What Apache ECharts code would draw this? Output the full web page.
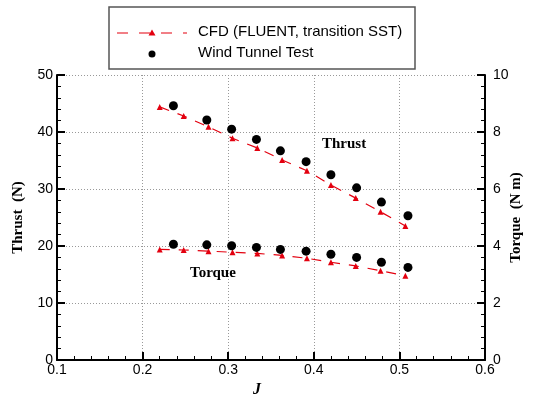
<!DOCTYPE html>
<html>
<head>
<meta charset="utf-8">
<script src="https://cdn.jsdelivr.net/npm/echarts@6/dist/echarts.min.js"></script>
<style>
html,body{margin:0;padding:0;background:#fff;}
#c{width:533px;height:394px;}
</style>
</head>
<body>
<div id="c"></div>
<script>
// ---- data ----
var cfdJ = [0.220, 0.248, 0.277, 0.305, 0.334, 0.363, 0.392, 0.420, 0.449, 0.478, 0.507];
var cfdThrust = [44.4, 42.8, 40.9, 38.9, 37.2, 35.1, 33.2, 30.7, 28.4, 26.0, 23.5];
var cfdTorque = [3.88, 3.86, 3.82, 3.78, 3.74, 3.67, 3.57, 3.43, 3.30, 3.13, 2.96];

var wtJ = [0.236, 0.275, 0.304, 0.333, 0.361, 0.391, 0.420, 0.450, 0.479, 0.510];
var wtThrust = [44.6, 42.1, 40.5, 38.7, 36.7, 34.8, 32.5, 30.2, 27.7, 25.3];
var wtTorque = [4.06, 4.04, 4.01, 3.95, 3.88, 3.82, 3.71, 3.60, 3.43, 3.25];

var legendNames = ['CFD (FLUENT, transition SST)', 'Wind Tunnel Test'];

function pairs(xs, ys){ return xs.map(function(x,i){ return [x, ys[i]]; }); }

var RED = '#e3000f';
var labelFont = {color:'#000', fontSize:14, fontFamily:'Arial, "Liberation Sans", sans-serif'};
var serifBold = '"Times New Roman", "Liberation Serif", serif';

var chart = echarts.init(document.getElementById('c'), null, {renderer:'canvas'});
chart.setOption({
  animation:false,
  backgroundColor:'#fff',
  grid:{left:57, right:48, top:75, bottom:34, containLabel:false, outerBoundsMode:'none'},
  xAxis:{
    type:'value', min:0.1, max:0.6, interval:0.1,
    name:'J', nameLocation:'middle', nameGap:18,
    nameTextStyle:{fontFamily:serifBold, fontWeight:'bold', fontStyle:'italic', fontSize:16, color:'#000', padding:[0,28,0,0]},
    axisLine:{show:true, onZero:false, lineStyle:{color:'#000', width:2}},
    axisTick:{show:true, inside:true, length:8, lineStyle:{color:'#000', width:2}},
    minorTick:{show:true, splitNumber:5, length:4, lineStyle:{color:'#000', width:1}},
    axisLabel:Object.assign({margin:3, formatter:function(v){return v.toFixed(1);}}, labelFont),
    splitLine:{show:true, lineStyle:{color:'#999', type:[1,2], width:1}}
  },
  yAxis:[{
    type:'value', min:0, max:50, interval:10, position:'left',
    name:'Thrust  (N)', nameLocation:'middle', nameGap:31, nameMoveOverlap:false,
    nameTextStyle:{fontFamily:serifBold, fontWeight:'bold', fontSize:15, color:'#000'},
    axisLine:{show:true, onZero:false, lineStyle:{color:'#000', width:2}},
    axisTick:{show:true, inside:true, length:8, lineStyle:{color:'#000', width:2}},
    minorTick:{show:true, splitNumber:5, length:4, lineStyle:{color:'#000', width:1}},
    axisLabel:Object.assign({margin:4}, labelFont),
    splitLine:{show:true, lineStyle:{color:'#999', type:[1,2], width:1}}
  },{
    type:'value', min:0, max:10, interval:2, position:'right',
    name:'Torque  (N m)', nameLocation:'middle', nameGap:24, nameRotate:90, nameMoveOverlap:false,
    nameTextStyle:{fontFamily:serifBold, fontWeight:'bold', fontSize:15, color:'#000'},
    axisLine:{show:true, onZero:false, lineStyle:{color:'#000', width:2}},
    axisTick:{show:true, inside:true, length:8, lineStyle:{color:'#000', width:2}},
    minorTick:{show:true, splitNumber:5, length:4, lineStyle:{color:'#000', width:1}},
    axisLabel:Object.assign({margin:8}, labelFont),
    splitLine:{show:false}
  }],
  series:[
    {name:legendNames[0], type:'line', yAxisIndex:0, data:pairs(cfdJ, cfdThrust),
     symbol:'triangle', symbolSize:6, showAllSymbol:true,
     lineStyle:{color:RED, width:1.2, type:[10,9]}, itemStyle:{color:RED}, z:3},
    {name:legendNames[0], type:'line', yAxisIndex:1, data:pairs(cfdJ, cfdTorque),
     symbol:'triangle', symbolSize:6, showAllSymbol:true,
     lineStyle:{color:RED, width:1.2, type:[10,9]}, itemStyle:{color:RED}, z:3},
    {name:legendNames[1], type:'scatter', yAxisIndex:0, data:pairs(wtJ, wtThrust),
     symbol:'circle', symbolSize:9, itemStyle:{color:'#000', opacity:1}, z:4},
    {name:legendNames[1], type:'scatter', yAxisIndex:1, data:pairs(wtJ, wtTorque),
     symbol:'circle', symbolSize:9, itemStyle:{color:'#000', opacity:1}, z:4}
  ],
  graphic:[
    {type:'rect', shape:{x:109, y:7, width:306, height:62}, style:{fill:'#fff', stroke:'#555', lineWidth:1.5}, z:10},
    {type:'line', shape:{x1:117, y1:33, x2:187, y2:33}, style:{stroke:RED, lineWidth:1.2, lineDash:[11,11]}, z:11},
    {type:'polygon', shape:{points:[[152,29.5],[155.5,35.5],[148.5,35.5]]}, style:{fill:RED}, z:11},
    {type:'circle', shape:{cx:152, cy:54, r:3.5}, style:{fill:'#000'}, z:11},
    {type:'text', left:198, top:24, style:{text:legendNames[0], fill:'#000', font:'15px Arial, "Liberation Sans", sans-serif'}, z:11},
    {type:'text', left:198, top:45, style:{text:legendNames[1], fill:'#000', font:'15px Arial, "Liberation Sans", sans-serif'}, z:11},
    {type:'text', left:322, top:137, style:{text:'Thrust', fill:'#000', font:'bold 15px "Times New Roman", "Liberation Serif", serif'}, z:11},
    {type:'text', left:190, top:266, style:{text:'Torque', fill:'#000', font:'bold 15px "Times New Roman", "Liberation Serif", serif'}, z:11}
  ]
});
</script>
</body>
</html>
